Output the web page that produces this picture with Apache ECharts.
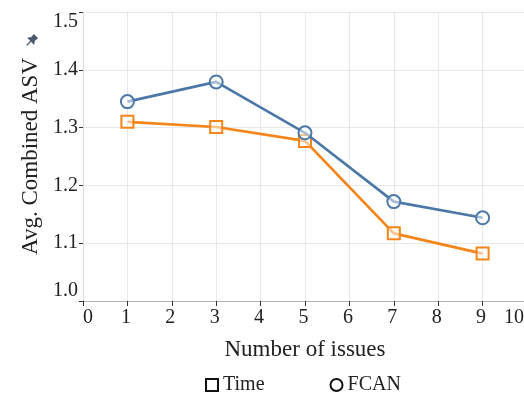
<!DOCTYPE html>
<html>
<head>
<meta charset="utf-8">
<script src="https://cdn.jsdelivr.net/npm/echarts@6/dist/echarts.min.js"></script>
<style>
  html, body { margin: 0; padding: 0; background: #fff; }
  #chart { width: 524px; height: 394px; }
</style>
</head>
<body>
<div id="chart"></div>
<script>
// Number of issues on the x axis
const issues = [1, 3, 5, 7, 9];
// Average combined ASV for each method
const timeValues = [1.310, 1.301, 1.277, 1.117, 1.082];
const fcanValues = [1.345, 1.379, 1.291, 1.172, 1.144];
// Axis ranges and labels
const xTicks = [0, 1, 2, 3, 4, 5, 6, 7, 8, 9, 10];
const yRange = [1.0, 1.5];
const seriesNames = ['Time', 'FCAN'];
const xTitle = 'Number of issues';
const yTitle = 'Avg. Combined ASV';

const FONT = '"Liberation Serif", "DejaVu Serif", serif';
const BLUE = '#4c78a8';
const ORANGE = '#f58518';

const chart = echarts.init(document.getElementById('chart'), null, { renderer: 'canvas' });

const pair = (xs, ys) => xs.map((x, i) => [x, ys[i]]);

chart.setOption({
  animation: false,
  backgroundColor: '#fff',
  grid: { left: 83, top: 12, width: 444, height: 289, containLabel: false, outerBoundsMode: 'none' },
  xAxis: {
    type: 'value',
    min: xTicks[0],
    max: xTicks[xTicks.length - 1],
    interval: 1,
    name: xTitle,
    nameLocation: 'middle',
    nameGap: 37,
    nameTextStyle: { fontFamily: FONT, fontSize: 23, color: '#222' },
    axisLine: { show: true, lineStyle: { color: '#b5b5b5', width: 1 } },
    axisTick: { show: true, length: 5, lineStyle: { color: '#333' } },
    axisLabel: {
      fontFamily: FONT, fontSize: 20, color: '#222', margin: 7,
      alignMinLabel: 'left', alignMaxLabel: 'right',
      padding: [0, 3, 0, 0]
    },
    splitLine: { show: true, lineStyle: { color: '#e8e8e8', width: 1 } }
  },
  yAxis: {
    type: 'value',
    min: yRange[0],
    max: yRange[1],
    interval: 0.1,
    name: yTitle,
    nameLocation: 'middle',
    nameGap: 40,
    nameRotate: 90,
    nameTextStyle: { fontFamily: FONT, fontSize: 23, color: '#222' },
    axisLine: { show: true, lineStyle: { color: '#dcdcdc', width: 1 } },
    axisTick: { show: true, length: 4, lineStyle: { color: '#333' } },
    axisLabel: {
      fontFamily: FONT, fontSize: 20, color: '#222', margin: 5,
      formatter: v => v.toFixed(1),
      verticalAlignMinLabel: 'bottom', verticalAlignMaxLabel: 'top'
    },
    splitLine: { show: true, lineStyle: { color: '#e8e8e8', width: 1 } }
  },
  legend: {
    left: 200,
    top: 370,
    itemGap: 65,
    itemWidth: 12,
    itemHeight: 12,
    textStyle: { fontFamily: FONT, fontSize: 20, color: '#222', padding: [0, 0, 0, 0] },
    data: [
      { name: seriesNames[0], icon: 'rect',
        itemStyle: { color: 'rgba(0,0,0,0)', borderColor: '#111', borderWidth: 2 } },
      { name: seriesNames[1], icon: 'circle',
        itemStyle: { color: 'rgba(0,0,0,0)', borderColor: '#111', borderWidth: 2 } }
    ]
  },
  series: [
    {
      name: seriesNames[0],
      type: 'line',
      data: pair(issues, timeValues),
      symbol: 'rect',
      symbolSize: 12,
      lineStyle: { color: ORANGE, width: 2.7 },
      itemStyle: { color: 'rgba(255,255,255,0.5)', borderColor: ORANGE, borderWidth: 2 },
      z: 3
    },
    {
      name: seriesNames[1],
      type: 'line',
      data: pair(issues, fcanValues),
      symbol: 'circle',
      symbolSize: 13,
      lineStyle: { color: BLUE, width: 2.7 },
      itemStyle: { color: 'rgba(255,255,255,0.5)', borderColor: BLUE, borderWidth: 2 },
      z: 4
    }
  ],
  graphic: [
    {
      // small pushpin next to the y-axis title
      type: 'group',
      x: 31, y: 41,
      rotation: -Math.PI / 4,
      children: [
        { type: 'polygon',
          shape: { points: [[-3, -7], [3, -7], [2.5, -3], [5, 0.5], [-5, 0.5], [-2.5, -3]] },
          style: { fill: '#4f5a72' } },
        { type: 'line', shape: { x1: 0, y1: 0, x2: 0, y2: 6 },
          style: { stroke: '#4f5a72', lineWidth: 1.3 } }
      ]
    }
  ]
});
</script>
</body>
</html>
